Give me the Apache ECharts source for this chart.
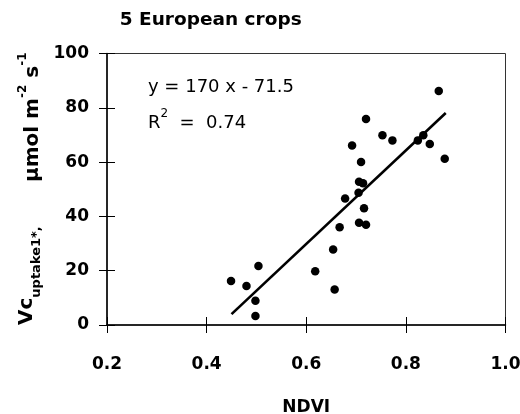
<!DOCTYPE html>
<html>
<head>
<meta charset="utf-8">
<script src="https://cdn.jsdelivr.net/npm/echarts@6/dist/echarts.min.js"></script>
<style>
html,body{margin:0;padding:0;background:#fff;}
#chart{width:520px;height:414px;}
</style>
</head>
<body>
<div id="chart"></div>
<script>
// Data
const ndvi = [0.449, 0.480, 0.504, 0.498, 0.498, 0.618, 0.654, 0.657, 0.667, 0.678,
              0.692, 0.705, 0.706, 0.714, 0.710, 0.716, 0.706, 0.720, 0.720, 0.753,
              0.773, 0.824, 0.835, 0.848, 0.866, 0.878];
const vcUptake = [16.2, 14.4, 21.7, 8.9, 3.3, 19.8, 27.8, 13.1, 36.0, 46.6,
                  66.1, 48.7, 52.8, 52.2, 60.0, 43.0, 37.7, 36.9, 75.9, 69.9,
                  68.0, 68.0, 69.9, 66.7, 86.2, 61.2];
// regression line end points (y = 170 x - 71.5)
const fitNdvi = [0.45, 0.88];
const fitVc = [4.0, 78.1];
const xTicks = [0.2, 0.4, 0.6, 0.8, 1.0];
const yTicks = [0, 20, 40, 60, 80, 100];
const titleText = '5 European crops';
const xName = 'NDVI';

const chart = echarts.init(document.getElementById('chart'), null, {renderer: 'canvas'});
const boldFont = 'DejaVu Sans';
const xMin = xTicks[0], xMax = xTicks[xTicks.length - 1], xStep = xTicks[1] - xTicks[0];
const yMin = yTicks[0], yMax = yTicks[yTicks.length - 1], yStep = yTicks[1] - yTicks[0];

const axisCommon = {
  type: 'value',
  splitLine: {show: false}
};

const option = {
  backgroundColor: '#fff',
  animation: false,
  grid: {left: 107, right: 14.5, top: 53.5, bottom: 89, containLabel: false, outerBoundsMode: 'none',
         show: true, borderColor: '#333', borderWidth: 1, backgroundColor: 'transparent'},
  xAxis: [
    Object.assign({}, axisCommon, {
      position: 'bottom', min: xMin, max: xMax, interval: xStep,
      name: xName, nameLocation: 'middle', nameGap: 74,
      nameTextStyle: {fontFamily: boldFont, fontWeight: 'bold', fontSize: 17, color: '#000'},
      axisLine: {show: true, lineStyle: {color: '#000', width: 1.5}},
      axisTick: {show: true, inside: false, length: 8, lineStyle: {color: '#000', width: 1}},
      axisLabel: {show: true, margin: 31, fontFamily: boldFont, fontWeight: 'bold', fontSize: 17, color: '#000',
        formatter: v => v.toFixed(1)}
    }),
    Object.assign({}, axisCommon, {
      position: 'bottom', min: xMin, max: xMax, interval: xStep,
      axisLine: {show: false},
      axisTick: {show: true, inside: true, length: 8, lineStyle: {color: '#000', width: 1}},
      axisLabel: {show: false}
    })
  ],
  yAxis: [
    Object.assign({}, axisCommon, {
      position: 'left', min: yMin, max: yMax, interval: yStep,
      axisLine: {show: true, lineStyle: {color: '#000', width: 1.5}},
      axisTick: {show: true, inside: false, length: 8, lineStyle: {color: '#000', width: 1}},
      axisLabel: {show: true, margin: 18, fontFamily: boldFont, fontWeight: 'bold', fontSize: 17, color: '#000'}
    }),
    Object.assign({}, axisCommon, {
      position: 'left', min: yMin, max: yMax, interval: yStep,
      axisLine: {show: false},
      axisTick: {show: true, inside: true, length: 8, lineStyle: {color: '#000', width: 1}},
      axisLabel: {show: false}
    })
  ],
  series: [
    {
      type: 'scatter', xAxisIndex: 0, yAxisIndex: 0,
      data: ndvi.map((x, i) => [x, vcUptake[i]]),
      symbol: 'circle', symbolSize: 8.5,
      itemStyle: {color: '#000', opacity: 1}
    },
    {
      type: 'line', xAxisIndex: 0, yAxisIndex: 0,
      data: fitNdvi.map((x, i) => [x, fitVc[i]]),
      showSymbol: false, symbol: 'none',
      lineStyle: {color: '#000', width: 2.6}
    }
  ],
  graphic: [
    {
      type: 'text', x: 210.7, y: 20.5,
      style: {text: titleText, fontFamily: boldFont, fontWeight: 'bold', fontSize: 18.5, fill: '#000', align: 'center', verticalAlign: 'middle'}
    },
    {
      type: 'text', x: 148, y: 87,
      style: {text: 'y = 170 x - 71.5', fontFamily: 'DejaVu Sans', fontSize: 18, fill: '#000', align: 'left', verticalAlign: 'middle'}
    },
    {
      type: 'text', x: 148, y: 120,
      style: {
        text: '{m|R}{s|2}{m|  =  0.74}',
        align: 'left', verticalAlign: 'middle',
        rich: {
          m: {fontFamily: 'DejaVu Sans', fontSize: 18, fill: '#000', verticalAlign: 'bottom', lineHeight: 24},
          s: {fontFamily: 'DejaVu Sans', fontSize: 12, fill: '#000', verticalAlign: 'top', lineHeight: 24}
        }
      }
    },
    {
      type: 'text', x: 30, y: 325, rotation: Math.PI / 2,
      style: {
        text: '{m|Vc}{s|uptake1*,}',
        align: 'left', verticalAlign: 'middle',
        rich: {
          m: {fontFamily: boldFont, fontWeight: 'bold', fontSize: 20, fill: '#000', verticalAlign: 'top', lineHeight: 26},
          s: {fontFamily: boldFont, fontWeight: 'bold', fontSize: 13, fill: '#000', verticalAlign: 'bottom', lineHeight: 26}
        }
      }
    },
    {
      type: 'text', x: 30, y: 182, rotation: Math.PI / 2,
      style: {
        text: '{m|µmol m}{p|-2}{m| s}{p|-1}',
        align: 'left', verticalAlign: 'middle',
        rich: {
          m: {fontFamily: boldFont, fontWeight: 'bold', fontSize: 20, fill: '#000', verticalAlign: 'bottom', lineHeight: 26},
          p: {fontFamily: boldFont, fontWeight: 'bold', fontSize: 12, fill: '#000', verticalAlign: 'top', lineHeight: 26}
        }
      }
    }
  ]
};
chart.setOption(option);
</script>
</body>
</html>
